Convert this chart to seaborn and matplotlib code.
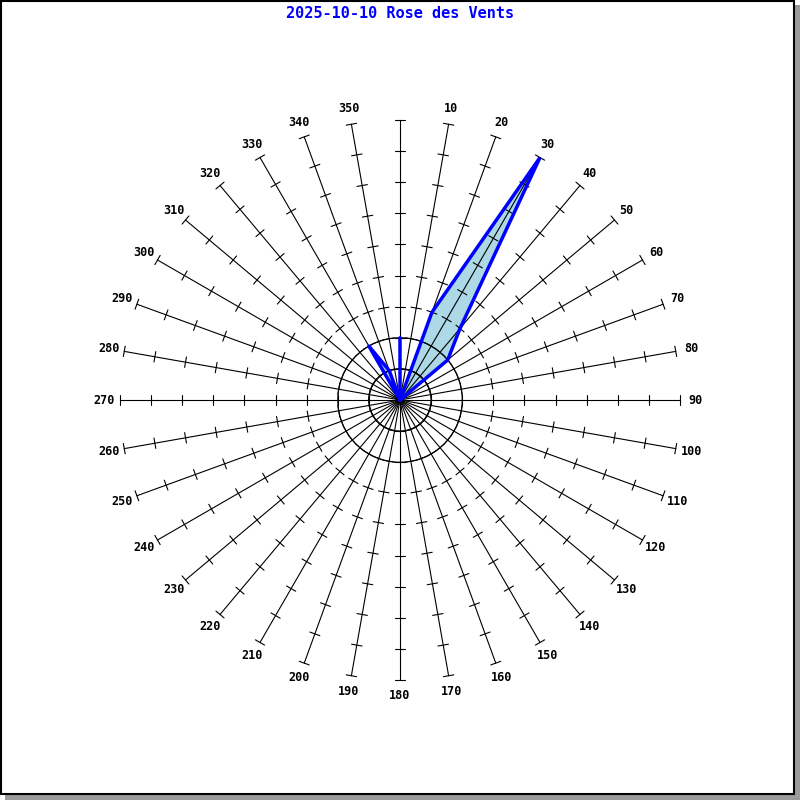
import numpy as np
import matplotlib
matplotlib.use("Agg")
import matplotlib.pyplot as plt
from matplotlib.patches import Rectangle
import seaborn as sns

# ---- data ----
title = "2025-10-10 Rose des Vents"
directions = list(range(0, 360, 10))
values = [2, 0, 3, 9, 3, 2, 0, 0, 0, 0, 0, 0,
          0, 0, 0, 0, 0, 0, 0, 0, 0, 0, 0, 0,
          0, 0, 0, 0, 0, 0, 0, 0, 0, 2, 1, 0]
ring_levels = [1, 2]
scale_max = 9

sns.set_theme(style="white")
plt.rcParams["font.family"] = ["DejaVu Sans Mono", "DejaVu Sans"]

fig = plt.figure(figsize=(8, 8), dpi=100)
fig.patch.set_facecolor("white")

# frame with drop shadow
fig.add_artist(Rectangle((5 / 800, 0), 795 / 800, 795 / 800, transform=fig.transFigure,
                         facecolor="#9a9a9a", edgecolor="none", zorder=-2))
fig.add_artist(Rectangle((1 / 800, 6 / 800), 793 / 800, 793 / 800, transform=fig.transFigure,
                         facecolor="white", edgecolor="black", lw=1.5, zorder=-1))

ax = fig.add_axes([0.15, 0.15, 0.7, 0.7], projection="polar")
ax.set_zorder(2)
ax.set_theta_zero_location("N")
ax.set_theta_direction(-1)

theta = np.deg2rad(directions)

# filled rose (under the spokes)
th_c = np.append(theta, theta[0])
v_c = np.append(values, values[0])
ax.fill(th_c, v_c, facecolor="#add8e6", edgecolor="none", zorder=1)

# spokes with ticks
h = 0.17
for th in theta:
    ax.plot([th, th], [0, scale_max], color="black", lw=0.8, zorder=2, clip_on=False)
    for r in range(1, scale_max + 1):
        dt = np.arctan(h / r)
        rr = np.hypot(r, h)
        ax.plot([th - dt, th + dt], [rr, rr], color="black", lw=0.8, zorder=2,
                clip_on=False)

# rings
ring_t = np.linspace(0, 2 * np.pi, 361)
for lev in ring_levels:
    ax.plot(ring_t, np.full_like(ring_t, lev), color="black", lw=0.8, zorder=2)

# outline
sns.lineplot(x=th_c, y=v_c, sort=False, color="blue", lw=2.5, ax=ax, zorder=3)
ax.set_ylim(0, scale_max)
ax.axis("off")

# direction labels
for th, d in zip(theta, directions):
    if d == 0:
        continue
    ax.text(th, 9.5, str(d), ha="center", va="center", fontsize=8.5,
            fontweight="bold", color="black", clip_on=False)

fig.text(0.5, 1 - 14 / 800, title, ha="center", va="center", fontsize=11,
         fontweight="bold", color="blue")

fig.savefig("out.png", dpi=100)
